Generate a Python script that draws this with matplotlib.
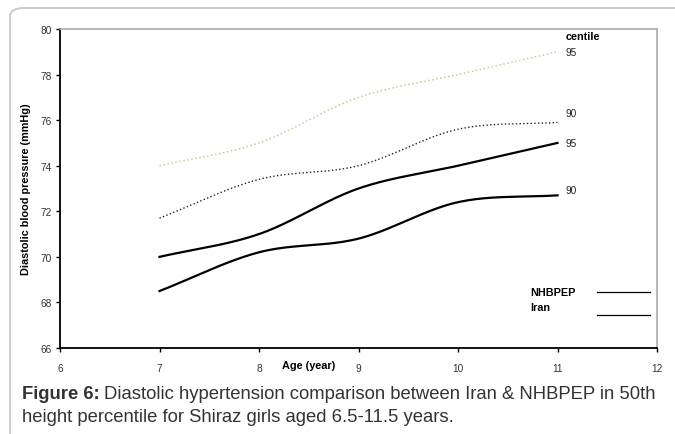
import matplotlib.pyplot as plt
import numpy as np
from matplotlib.patches import FancyBboxPatch

plt.rcParams["font.family"] = ["Liberation Sans", "DejaVu Sans"]

ages = [7, 8, 9, 10, 11]
nhbpep_95 = [74.0, 75.0, 77.0, 78.0, 79.0]
nhbpep_90 = [71.7, 73.4, 74.0, 75.6, 75.9]
iran_95 = [70.0, 71.0, 73.0, 74.0, 75.0]
iran_90 = [68.5, 70.2, 70.8, 72.4, 72.7]
centile_labels = ["95", "90", "95", "90"]
legend_labels = ["NHBPEP", "Iran"]
x_ticks = [6, 7, 8, 9, 10, 11, 12]
y_ticks = [66, 68, 70, 72, 74, 76, 78, 80]

SMALL = 7.3
BOLD = 7.8


def smooth(xs, ys, n=40):
    # Excel-style smoothed line (Catmull-Rom through the points)
    p = np.column_stack([xs, ys]).astype(float)
    tang = np.zeros_like(p)
    tang[0] = p[1] - p[0]
    tang[-1] = p[-1] - p[-2]
    tang[1:-1] = (p[2:] - p[:-2]) / 2
    t = np.linspace(0, 1, n)[:, None]
    h00 = 2 * t**3 - 3 * t**2 + 1
    h10 = t**3 - 2 * t**2 + t
    h01 = -2 * t**3 + 3 * t**2
    h11 = t**3 - t**2
    out = []
    for i in range(len(p) - 1):
        seg = h00 * p[i] + h10 * tang[i] + h01 * p[i + 1] + h11 * tang[i + 1]
        out.append(seg if i == 0 else seg[1:])
    out = np.vstack(out)
    return out[:, 0], out[:, 1]


fig = plt.figure(figsize=(6.75, 4.35), dpi=100)
fig.patches.append(FancyBboxPatch((10 / 675, -0.05), 1.1, (435 - 9) / 435 + 0.05,
                                  boxstyle="round,pad=0,rounding_size=0.02",
                                  transform=fig.transFigure, fill=False,
                                  edgecolor="#c8c8c8", linewidth=1.3))

ax = fig.add_axes([60 / 675, (435 - 349) / 435, 597 / 675, 319 / 435])

series = [
    (nhbpep_95, "#cdc996", ":", 1.1),
    (nhbpep_90, "#222222", ":", 1.0),
    (iran_95, "black", "-", 1.6),
    (iran_90, "black", "-", 1.6),
]
for vals, color, ls, lw in series:
    sx, sy = smooth(ages, vals)
    ax.plot(sx, sy, color=color, linestyle=ls, linewidth=lw)

offsets = [0, 6.5, 0, 4]
for (vals, _, _, _), lab, off in zip(series, centile_labels, offsets):
    ax.annotate(lab, (ages[-1], vals[-1]), xytext=(6, off - 3.5), textcoords="offset points",
                fontsize=SMALL, color="#222222", va="bottom")
ax.annotate("centile", (ages[-1], nhbpep_95[-1]), xytext=(6, 7.5), textcoords="offset points",
            fontsize=BOLD, fontweight="bold", va="bottom")

ax.set_xlim(6, 12)
ax.set_ylim(66, 80)
ax.set_xticks(x_ticks)
ax.set_yticks(y_ticks)
ax.tick_params(labelsize=SMALL, length=3, width=1, colors="black", labelcolor="#333333", pad=8)
ax.tick_params(axis="y", pad=3)
for side in ["left", "bottom"]:
    ax.spines[side].set_linewidth(1.3)
for side in ["top", "right"]:
    ax.spines[side].set_color("#aaaaaa")
    ax.spines[side].set_linewidth(1.2)

ax.set_ylabel("Diastolic blood pressure (mmHg)", fontsize=BOLD, fontweight="bold", labelpad=7)
ax.text(0.417, -0.052, "Age (year)", transform=ax.transAxes, fontsize=BOLD,
        fontweight="bold", ha="center", va="center")

# legend block drawn by hand: labels left-aligned, sample lines to the right
legend_text_y = [0.175, 0.128]
legend_line_y = [0.175, 0.105]
for lab, ty, ly in zip(legend_labels, legend_text_y, legend_line_y):
    ax.text(0.787, ty, lab, transform=ax.transAxes, fontsize=BOLD, fontweight="bold",
            va="center", ha="left")
    ax.plot([0.899, 0.988], [ly, ly], transform=ax.transAxes, color="black", linewidth=0.9)

cap_y = 1 - 395 / 435
bold_part = fig.text(22 / 675, cap_y, "Figure 6:", fontsize=13.3, fontweight="bold",
                     color="#333333", va="center")
fig.canvas.draw()
bb = bold_part.get_window_extent().transformed(fig.transFigure.inverted())
fig.text(bb.x1 + 4 / 675, cap_y,
         "Diastolic hypertension comparison between Iran & NHBPEP in 50th",
         fontsize=13.3, color="#333333", va="center")
fig.text(22 / 675, 1 - 418 / 435, "height percentile for Shiraz girls aged 6.5-11.5 years.",
         fontsize=13.3, color="#333333", va="center")

fig.savefig("out.png", dpi=100)
